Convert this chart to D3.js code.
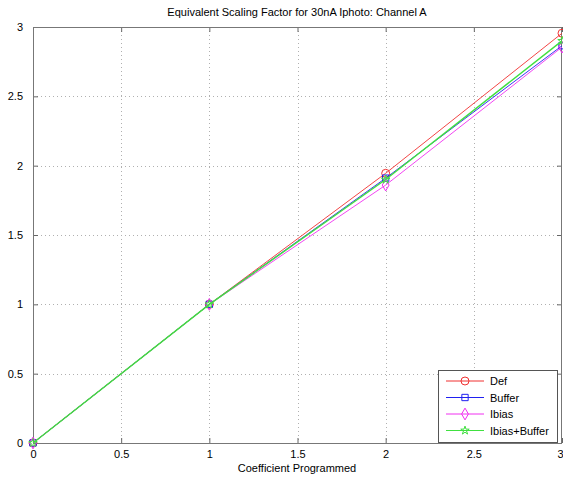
<!DOCTYPE html>
<html>
<head>
<meta charset="utf-8">
<script src="https://cdn.jsdelivr.net/npm/d3@7"></script>
<style>
  body { margin: 0; background: #fff; }
  svg { display: block; font-family: "Liberation Sans", Arial, sans-serif; }
</style>
</head>
<body>
<svg id="chart" width="563" height="485"></svg>
<script>
// data
const coefficients = [0, 1, 2, 3];
const defValues = [0, 1, 1.945, 2.955];
const bufferValues = [0, 1, 1.91, 2.865];
const ibiasValues = [0, 1, 1.86, 2.855];
const ibiasBufferValues = [0, 1, 1.90, 2.90];
const xTicks = [0, 0.5, 1, 1.5, 2, 2.5, 3];
const yTicks = [0, 0.5, 1, 1.5, 2, 2.5, 3];

const seriesList = [
  { name: "Def", values: defValues, color: "#f03030", marker: "circle", w: 0.9 },
  { name: "Buffer", values: bufferValues, color: "#2020f0", marker: "square", w: 0.9 },
  { name: "Ibias", values: ibiasValues, color: "#f030f0", marker: "diamond", w: 0.9 },
  { name: "Ibias+Buffer", values: ibiasBufferValues, color: "#40e040", marker: "star", w: 1.4 }
];

const svg = d3.select("#chart");
const margin = { left: 33, right: 1, top: 27, bottom: 42 };
const width = 563 - margin.left - margin.right;
const height = 485 - margin.top - margin.bottom;

const g = svg.append("g").attr("transform", `translate(${margin.left},${margin.top})`);

const x = d3.scaleLinear().domain([0, 3]).range([0, width]);
const y = d3.scaleLinear().domain([0, 3]).range([height, 0]);

// grid
g.append("g").selectAll("line").data(xTicks.slice(1, -1)).enter().append("line")
  .attr("x1", d => Math.round(x(d)) + 0.5).attr("x2", d => Math.round(x(d)) + 0.5)
  .attr("y1", 0).attr("y2", height)
  .attr("stroke", "#b0b0b0").attr("stroke-width", 1).attr("stroke-dasharray", "1,3");
g.append("g").selectAll("line").data(yTicks.slice(1, -1)).enter().append("line")
  .attr("y1", d => Math.round(y(d)) + 0.5).attr("y2", d => Math.round(y(d)) + 0.5)
  .attr("x1", 0).attr("x2", width)
  .attr("stroke", "#b0b0b0").attr("stroke-width", 1).attr("stroke-dasharray", "1,3");

// axes (ticks point inward)
const xAxis = d3.axisBottom(x).tickValues(xTicks).tickSizeInner(-5).tickSizeOuter(0)
  .tickPadding(7).tickFormat(d3.format("~g"));
const yAxis = d3.axisLeft(y).tickValues(yTicks).tickSizeInner(-5).tickSizeOuter(0)
  .tickPadding(10).tickFormat(d3.format("~g"));

const gx = g.append("g").attr("transform", `translate(0,${height})`).call(xAxis);
const gy = g.append("g").call(yAxis);
[gx, gy].forEach(a => {
  a.select(".domain").remove();
  a.selectAll("line").attr("stroke", "#666");
  a.selectAll("text").attr("font-size", 11).attr("fill", "#000")
    .attr("font-family", "Liberation Sans, Arial, sans-serif");
});
gx.selectAll("text").filter(d => d === 3).attr("text-anchor", "end").attr("dx", 1);
// top ticks / right ticks
g.append("g").call(d3.axisTop(x).tickValues(xTicks).tickSizeInner(-5).tickSizeOuter(0).tickFormat(""))
  .call(a => { a.select(".domain").remove(); a.selectAll("line").attr("stroke", "#666"); });
g.append("g").attr("transform", `translate(${width},0)`)
  .call(d3.axisRight(y).tickValues(yTicks).tickSizeInner(-5).tickSizeOuter(0).tickFormat(""))
  .call(a => { a.select(".domain").remove(); a.selectAll("line").attr("stroke", "#666"); });

// frame
g.append("rect").attr("x", 0.5).attr("y", 0.5).attr("width", width - 1).attr("height", height)
  .attr("fill", "none").attr("stroke", "#777").attr("stroke-width", 1);

const line = d3.line().x((d, i) => x(coefficients[i])).y(d => y(d));

function symbolFor(m) {
  if (m === "circle") return d3.symbol().type(d3.symbolCircle).size(50);
  if (m === "square") return d3.symbol().type(d3.symbolSquare).size(40);
  if (m === "diamond") return d3.symbol().type(d3.symbolDiamond).size(40);
  return d3.symbol().type(d3.symbolStar).size(22);
}

seriesList.forEach(s => {
  g.append("path").datum(s.values)
    .attr("d", line).attr("fill", "none")
    .attr("stroke", s.color).attr("stroke-width", s.w);
  g.append("g").selectAll("path").data(s.values).enter().append("path")
    .attr("transform", (d, i) => `translate(${x(coefficients[i])},${y(d)})`)
    .attr("d", symbolFor(s.marker)())
    .attr("fill", "none").attr("stroke", s.color).attr("stroke-width", 1);
});

// title and axis label
svg.append("text").attr("x", 297).attr("y", 16).attr("text-anchor", "middle")
  .attr("font-size", 11).text("Equivalent Scaling Factor for 30nA  Iphoto: Channel A");
svg.append("text").attr("x", 297).attr("y", 472).attr("text-anchor", "middle")
  .attr("font-size", 11).text("Coefficient Programmed");

// legend
const legend = svg.append("g").attr("transform", "translate(438,370)");
legend.append("rect").attr("x", 0.5).attr("y", 0.5).attr("width", 119).attr("height", 72)
  .attr("fill", "#fff").attr("stroke", "#555");
seriesList.forEach((s, i) => {
  const ly = 11 + i * 16.5;
  legend.append("line").attr("x1", 8).attr("x2", 46).attr("y1", ly).attr("y2", ly)
    .attr("stroke", s.color);
  legend.append("path").attr("transform", `translate(27,${ly})`)
    .attr("d", symbolFor(s.marker)()).attr("fill", "none")
    .attr("stroke", s.color);
  legend.append("text").attr("x", 52).attr("y", ly + 4).attr("font-size", 11).text(s.name);
});
</script>
</body>
</html>
